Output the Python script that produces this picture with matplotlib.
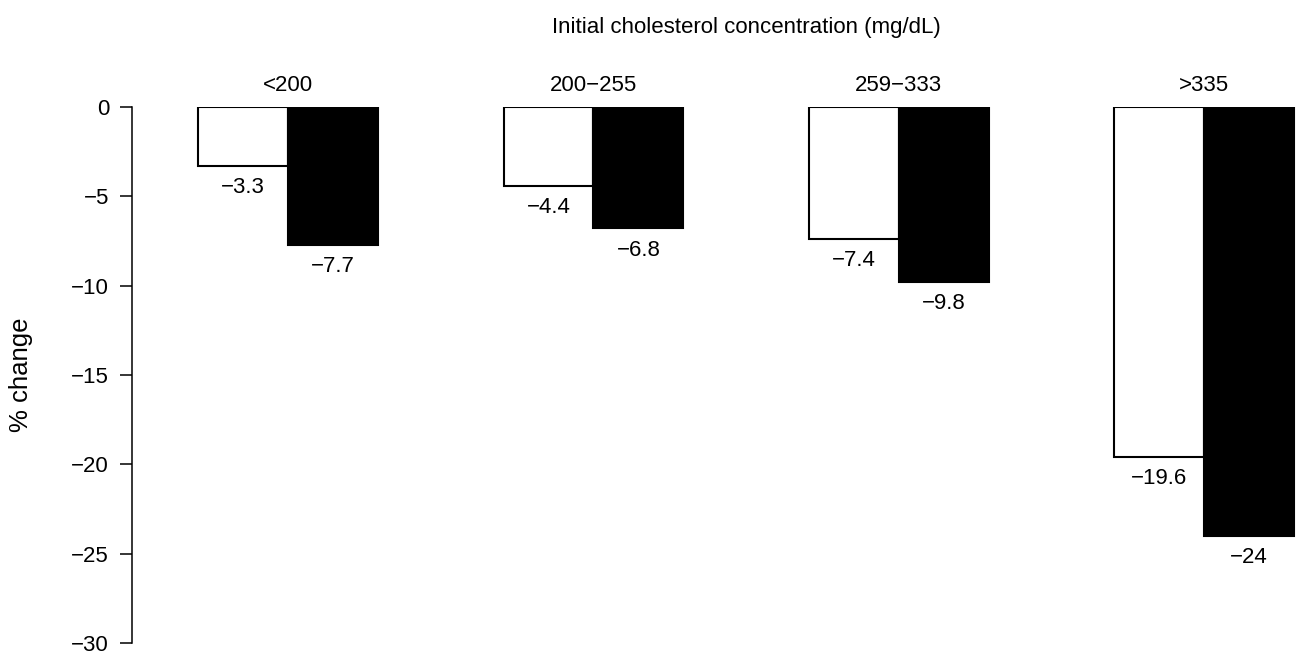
import numpy as np
import matplotlib
matplotlib.use("Agg")
import matplotlib.pyplot as plt

plt.rcParams['font.family'] = ['Liberation Sans', 'DejaVu Sans']

groups = ["<200", "200\u2212255", "259\u2212333", ">335"]
white_vals = [-3.3, -4.4, -7.4, -19.6]
black_vals = [-7.7, -6.8, -9.8, -24]
yticks = [0, -5, -10, -15, -20, -25, -30]

fig = plt.figure(figsize=(12.96, 6.54), dpi=100)
ax = fig.add_axes([0.1019, 0.0168, 0.898, 0.8196])

x = np.arange(len(groups))
w = 0.294
b1 = ax.bar(x - w / 2, white_vals, w, color="white", edgecolor="black", linewidth=1.5)
b2 = ax.bar(x + w / 2, black_vals, w, color="black", edgecolor="black", linewidth=1.5)

# values under each bar
for bars, vals in ((b1, white_vals), (b2, black_vals)):
    for r, v in zip(bars, vals):
        txt = ("%g" % v).replace("-", "\u2212")
        ax.annotate(txt, (r.get_x() + r.get_width() / 2, v), xytext=(0, -8),
                    textcoords="offset points", ha="center", va="top", fontsize=16)

# group names above the bars
for i, g in enumerate(groups):
    ax.annotate(g, (i, 0), xytext=(0, 11.5), textcoords="offset points",
                ha="center", va="baseline", fontsize=16)

ax.set_xlim(-0.511, 3.30)
ax.set_ylim(-30, 0)
ax.set_yticks(yticks)
ax.tick_params(axis="y", length=8.6, width=1.1, labelsize=16, pad=8)
ax.set_xticks([])
for s in ("top", "right", "bottom"):
    ax.spines[s].set_visible(False)
ax.spines["left"].set_linewidth(1.1)
ax.set_ylabel("% change", fontsize=18.5)
ax.yaxis.set_label_coords(-0.085, 0.5)

fig.text(0.5756, 0.958, "Initial cholesterol concentration (mg/dL)",
         ha="center", va="center", fontsize=16)

fig.savefig("out.png", dpi=100)
